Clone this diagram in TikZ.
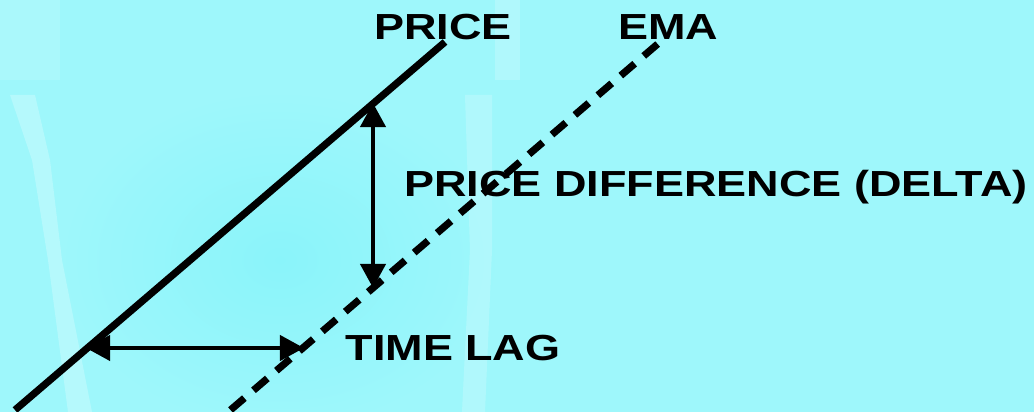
\documentclass[tikz,border=0pt]{standalone}
\usepackage{fontspec}
\setmainfont{Liberation Sans}
\usetikzlibrary{arrows.meta}
\definecolor{bgcyan}{RGB}{158,247,251}
\definecolor{darkcyan}{RGB}{138,244,250}
\definecolor{lightcyan}{RGB}{200,251,254}
\tikzset{
  lbl/.style={inner sep=0pt, font=\fontsize{25.8pt}{30pt}\selectfont\bfseries},
  curve/.style={line width=0.18cm, black},
  emacurve/.style={curve, dash pattern=on 13pt off 8.5pt},
  gap/.style={line width=0.115cm, black, {Triangle[length=0.6cm,width=0.62cm]}-{Triangle[length=0.6cm,width=0.62cm]}}
}
\newcommand{\wide}[1]{\scalebox{1.24}[1]{#1}}
\begin{document}
\begin{tikzpicture}[x=0.025cm,y=-0.025cm]
% background
\fill[bgcyan] (0,0) rectangle (1034,412);
\useasboundingbox (0,0) rectangle (1034,412);
\shade[inner color=darkcyan, outer color=bgcyan] (280,260) ellipse [x radius=220, y radius=170];
\fill[lightcyan, opacity=0.3] (0,0) rectangle (60,80);
\fill[lightcyan, opacity=0.55] (10,95) -- (35,95) -- (50,160) -- (62,260) -- (92,412) -- (68,412) -- (48,260) -- (32,160) -- cycle;
\fill[lightcyan, opacity=0.45] (465,95) -- (492,95) -- (492,250) -- (485,412) -- (462,412) -- (470,250) -- cycle;
\fill[lightcyan, opacity=0.45] (495,0) rectangle (520,80);
% lines
\coordinate (p0) at (15,410);
\coordinate (p1) at (445,42);
\coordinate (e0) at (230.5,410);
\coordinate (e1) at (660,42);
\draw[curve] (p0) -- (p1);
\draw[emacurve] (e0) -- (e1);
% arrow end points
\coordinate (dtop) at (373,103);
\coordinate (dbot) at (373,288);
\coordinate (tl) at (86,348);
\coordinate (tr) at (304,348);
\draw[gap] (dtop) -- (dbot);
\draw[gap] (tl) -- (tr);
% labels
\node[lbl] (price) at (443,27) {\wide{PRICE}};
\node[lbl] (ema) at (668,27) {\wide{EMA}};
\node[lbl] (delta) at (716,187) {\wide{PRICE DIFFERENCE (DELTA)}};
\node[lbl] (lag) at (453,348) {\wide{TIME LAG}};
\end{tikzpicture}
\end{document}
